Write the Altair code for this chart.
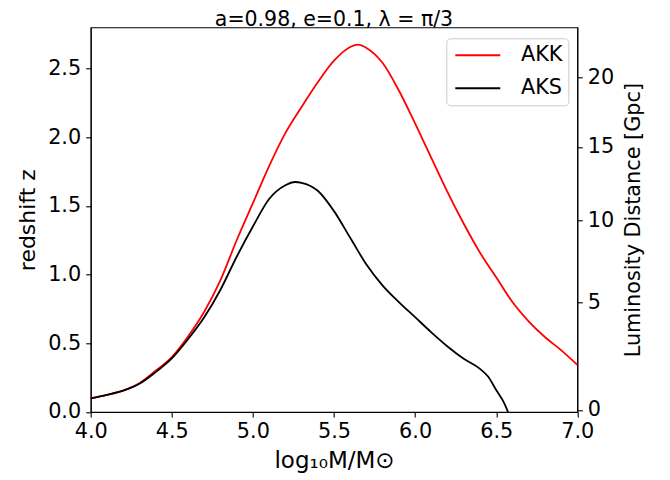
import altair as alt
import pandas as pd

# ---- data ----
MASS_AKK = [4.0, 4.1, 4.2, 4.3, 4.4, 4.5, 4.6, 4.7, 4.8, 4.9, 5.0, 5.1, 5.2, 5.3, 5.4, 5.5,
            5.6, 5.65, 5.7, 5.8, 5.9, 6.0, 6.1, 6.2, 6.3, 6.4, 6.5, 6.6, 6.7, 6.8, 6.9, 7.0]
Z_AKK = [0.10, 0.125, 0.155, 0.21, 0.30, 0.40, 0.55, 0.73, 0.96, 1.25, 1.52, 1.79, 2.03, 2.22,
         2.40, 2.557, 2.657, 2.674, 2.65, 2.54, 2.34, 2.10, 1.85, 1.60, 1.37, 1.16, 0.98,
         0.80, 0.66, 0.546, 0.45, 0.343]

MASS_AKS = [4.0, 4.1, 4.2, 4.3, 4.4, 4.5, 4.6, 4.7, 4.8, 4.9, 5.0, 5.1, 5.2, 5.26, 5.3, 5.4,
            5.5, 5.6, 5.7, 5.8, 5.9, 6.0, 6.1, 6.2, 6.3, 6.4, 6.45, 6.5, 6.55, 6.573]
Z_AKS = [0.10, 0.125, 0.155, 0.205, 0.29, 0.39, 0.53, 0.69, 0.89, 1.13, 1.35, 1.55, 1.65,
         1.674, 1.668, 1.61, 1.462, 1.268, 1.073, 0.92, 0.80, 0.69, 0.58, 0.477, 0.387,
         0.314, 0.258, 0.16, 0.063, 0.0]

SERIES = ["AKK", "AKS"]
COLORS = ["#ff0000", "#000000"]

X_TICKS = [4.0, 4.5, 5.0, 5.5, 6.0, 6.5, 7.0]
Y_TICKS = [0.0, 0.5, 1.0, 1.5, 2.0, 2.5]
DL_LABELS = ["0", "5", "10", "15", "20"]          # Gpc
DL_TICK_Z = [0.015, 0.796, 1.394, 1.929, 2.436]   # redshift where each D_L tick sits

FONT = "DejaVu Sans"

df = pd.concat([
    pd.DataFrame({"mass": MASS_AKK, "z": Z_AKK, "series": "AKK"}),
    pd.DataFrame({"mass": MASS_AKS, "z": Z_AKS, "series": "AKS"}),
], ignore_index=True)

label_expr = "''"
for lab, zv in reversed(list(zip(DL_LABELS, DL_TICK_Z))):
    label_expr = f"abs(datum.value - {zv}) < 0.001 ? '{lab}' : ({label_expr})"

xscale = alt.Scale(domain=[4.0, 7.0], nice=False, zero=False)
yscale = alt.Scale(domain=[0.0, 2.8], nice=False)

lines = alt.Chart(df).mark_line(strokeWidth=1.8, interpolate="monotone").encode(
    x=alt.X("mass:Q", scale=xscale,
            axis=alt.Axis(values=X_TICKS, format=".1f", title="log₁₀M/M⊙",
                          titleFontSize=23, titleFontWeight="normal", titlePadding=8,
                          labelFlush=False)),
    y=alt.Y("z:Q", scale=yscale,
            axis=alt.Axis(values=Y_TICKS, format=".1f", title="redshift z",
                          titleFontSize=22, titleFontWeight="normal", titlePadding=8,
                          labelFlush=False)),
    color=alt.Color("series:N",
                    scale=alt.Scale(domain=SERIES, range=COLORS),
                    legend=alt.Legend(title=None, orient="none", legendX=355.6, legendY=11,
                                      symbolType="stroke", symbolSize=2025, symbolStrokeWidth=2,
                                      symbolOffset=3, labelOffset=19.7,
                                      labelFontSize=20.8, labelFont=FONT,
                                      clipHeight=24, rowPadding=9, padding=5,
                                      strokeColor="#cccccc", fillColor="#ffffff",
                                      cornerRadius=4)),
    detail="series:N",
)

right = alt.Chart(df).mark_line(opacity=0).encode(
    x=alt.X("mass:Q", scale=xscale),
    y=alt.Y("z:Q", scale=yscale,
            axis=alt.Axis(orient="right", values=DL_TICK_Z, labelExpr=label_expr,
                          labelFlush=False,
                          title="Luminosity Distance [Gpc]", titleFontSize=20.8,
                          titleFontWeight="normal", titleAngle=270, titleBaseline="top",
                          titlePadding=10)),
)

chart = alt.layer(lines, right).resolve_scale(y="independent").properties(
    width=486.6,
    height=384.7,
    title=alt.TitleParams("a=0.98, e=0.1, λ = π/3", fontSize=20.5, font=FONT,
                          fontWeight="normal", anchor="middle", offset=-19,
                          baseline="alphabetic", color="#000000"),
    autosize=alt.AutoSizeParams(type="none"),
    padding={"left": 82.7, "top": 19.3, "right": 75, "bottom": 64},
).configure_view(
    stroke="#000000", strokeWidth=1.1
).configure_axis(
    labelFont=FONT, titleFont=FONT, labelFontSize=20.8, labelColor="#000000",
    titleColor="#000000", domainColor="#000000", tickColor="#000000",
    domainWidth=1.1, tickWidth=1.1, tickSize=5, labelPadding=5, grid=False,
)

chart.save("out.html", embed_options={"renderer": "svg", "actions": False})
